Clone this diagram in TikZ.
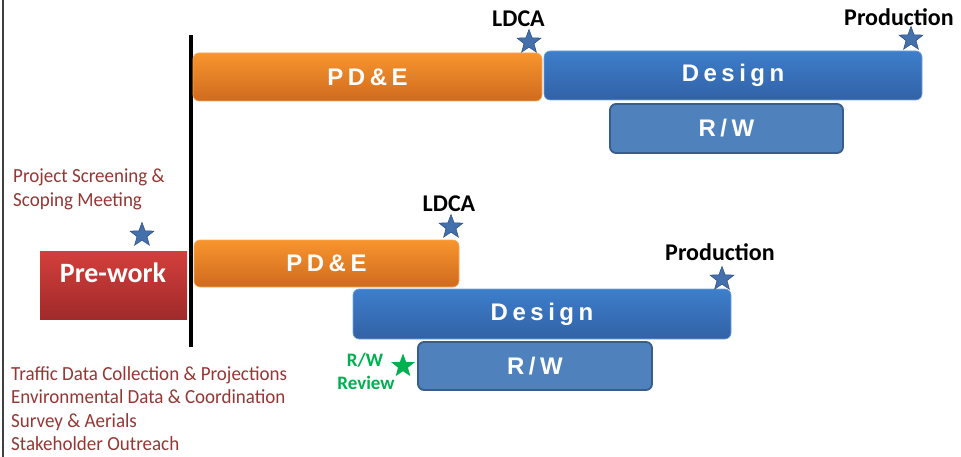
\documentclass[tikz,border=0pt]{standalone}
\usepackage{fontspec}
\setmainfont{Carlito}
\newfontfamily\notefont{Carlito}[FakeStretch=0.95]
\newfontfamily\barfont{Liberation Sans}
\usetikzlibrary{shapes.geometric}
\definecolor{txtred}{HTML}{953735}
\definecolor{rwgreen}{HTML}{00B050}
\definecolor{orTop}{HTML}{F8952D}
\definecolor{orBot}{HTML}{CF6A1F}
\definecolor{blTop}{HTML}{3D7ECB}
\definecolor{blBot}{HTML}{3262A6}
\definecolor{rwFill}{HTML}{4F81BD}
\definecolor{rwLine}{HTML}{385D8A}
\definecolor{rdTop}{HTML}{D33F3C}
\definecolor{rdBot}{HTML}{A02A2A}
\definecolor{starFill}{HTML}{4470AC}
\definecolor{starLine}{HTML}{2F528A}
\newcommand\lk{\kern4.5pt}
\tikzset{
  bar/.style={rounded corners=6pt, inner sep=0pt, text=white, font=\barfont\bfseries\fontsize{24}{24}\selectfont},
  orangebar/.style={bar, top color=orTop, bottom color=orBot, draw=orTop!80!white, line width=0.6pt},
  bluebar/.style={bar, top color=blTop, bottom color=blBot, draw=blTop!70!white, line width=0.6pt},
  rwbar/.style={bar, fill=rwFill, draw=rwLine, line width=1.8pt},
  bstar/.style={star, star points=5, star point ratio=2.4, minimum size=25pt, inner sep=0pt, fill=starFill, draw=starLine, line width=0.6pt},
  gstar/.style={star, star points=5, star point ratio=2.4, minimum size=25pt, inner sep=0pt, fill=rwgreen},
  milestone/.style={font=\bfseries\fontsize{24}{24}\selectfont, text=black, inner sep=0pt, anchor=base},
  note/.style={font=\notefont\fontsize{20}{20}\selectfont, text=txtred, inner sep=0pt, anchor=base west},
  review/.style={font=\bfseries\fontsize{19}{19}\selectfont, text=rwgreen, inner sep=0pt, anchor=base},
}
\begin{document}
\begin{tikzpicture}[x=1pt,y=-1pt]
\useasboundingbox (0,0) rectangle (961,457);
\fill[white] (0,0) rectangle (961,457);
% left border
\coordinate (bt) at (3,0);
\coordinate (bb) at (3,457);
\draw[line width=2pt, black!75] (bt) -- (bb);
% divider
\coordinate (dt) at (190.5,35);
\coordinate (db) at (190.5,347);
\draw[line width=4pt] (dt) -- (db);

% top row
\node[orangebar, minimum width=349pt, minimum height=48pt] (pde1) at (367.5,77) {P\lk D\lk \&\lk E};
\node[bluebar, minimum width=378pt, minimum height=49pt] (des1) at (733,75.5) {D\lk e\lk s\lk i\lk g\lk n};
\node[rwbar, minimum width=233pt, minimum height=49pt] (rw1) at (726.5,128.5) {R\lk /\lk W};
\node[bstar] (s1) at (529,42) {};
\node[milestone] (l1) at (518.5,27) {LDCA};
\node[bstar] (s2) at (911,39) {};
\node[milestone] (p1) at (899,26) {Production};

% pre-work
\node[note] (ps1) at (13,183) {Project Screening \&};
\node[note] (ps2) at (13,207) {Scoping Meeting};
\node[bstar] (s3) at (142,235) {};
\node[top color=rdTop, bottom color=rdBot, minimum width=147pt, minimum height=68pt, inner sep=0pt] (pre) at (113.5,285) {};
\node[text=white, font=\bfseries\fontsize{28}{28}\selectfont, inner sep=0pt, anchor=base] (pret) at (113,282) {Pre-work};

% bottom row
\node[orangebar, minimum width=265pt, minimum height=47pt] (pde2) at (326.5,263.5) {P\lk D\lk \&\lk E};
\node[bstar] (s4) at (451,227) {};
\node[milestone] (l2) at (449,212) {LDCA};
\node[bluebar, minimum width=378pt, minimum height=50pt] (des2) at (542,314) {D\lk e\lk s\lk i\lk g\lk n};
\node[bstar] (s5) at (722,279) {};
\node[milestone] (p2) at (720,260) {Production};
\node[rwbar, minimum width=234pt, minimum height=48pt] (rw2) at (535,366) {R\lk /\lk W};
\node[gstar] (s6) at (403,366) {};
\node[review] (rr1) at (365,366) {R/W};
\node[review] (rr2) at (366,389) {Review};

% bottom notes
\node[note] (n1) at (11,380) {Traffic Data Collection \& Projections};
\node[note] (n2) at (11,403) {Environmental Data \& Coordination};
\node[note] (n3) at (11,427) {Survey \& Aerials};
\node[note] (n4) at (11,450) {Stakeholder Outreach};
\end{tikzpicture}
\end{document}
